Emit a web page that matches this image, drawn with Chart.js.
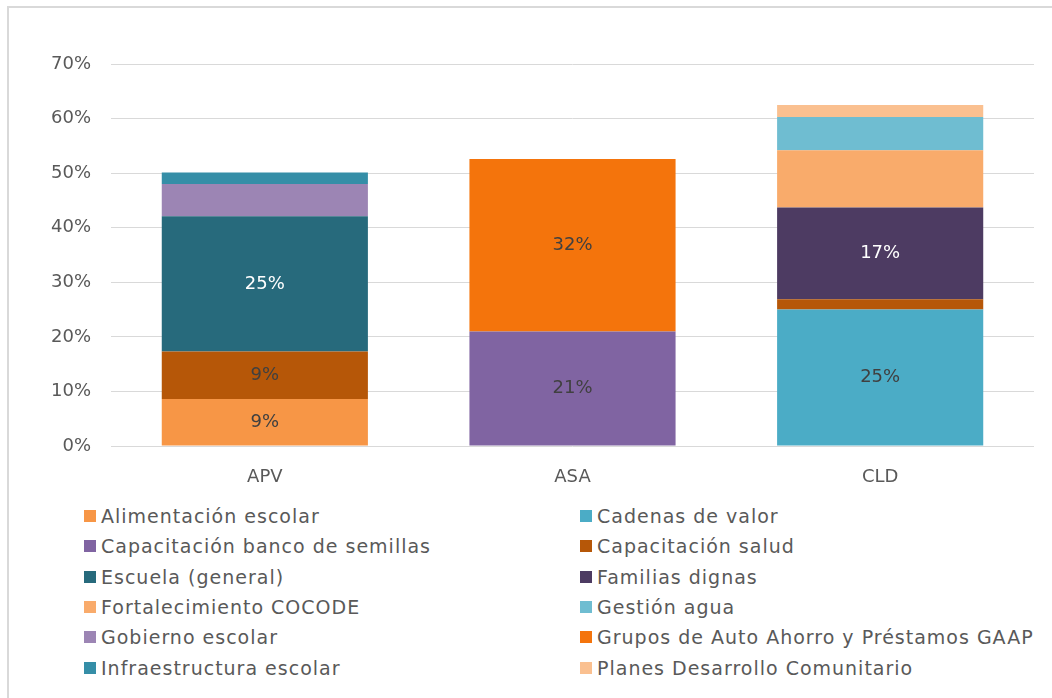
<!DOCTYPE html>
<html>
<head>
<meta charset="utf-8">
<script src="https://cdn.jsdelivr.net/npm/chart.js@4/dist/chart.umd.min.js"></script>
<style>
  body { margin: 0; width: 1052px; height: 698px; background: #fff; overflow: hidden; position: relative; font-family: "DejaVu Sans", sans-serif; }
  .frame { position: absolute; left: 7px; top: 6px; width: 1080px; height: 720px; border: 2px solid #d9d9d9; box-sizing: border-box; }
  #wrap { position: absolute; left: 0; top: 0; width: 1052px; height: 490px; }
  .legend { position: absolute; top: 501px; left: 84px; display: grid; grid-template-columns: 496px 460px; }
  .item { height: 30.3px; display: flex; align-items: center; font-size: 19px; letter-spacing: 1px; color: #595959; white-space: nowrap; }
  .item span.box { width: 12px; height: 12px; margin-right: 5px; flex: none; }
</style>
</head>
<body>
<div class="frame"></div>
<div id="wrap"><canvas id="chart" width="1052" height="490"></canvas></div>
<div class="legend" id="legend"></div>
<script>
const categories = ["APV", "ASA", "CLD"];

const seriesNames = [
  "Alimentación escolar",
  "Cadenas de valor",
  "Capacitación banco de semillas",
  "Capacitación salud",
  "Escuela (general)",
  "Familias dignas",
  "Fortalecimiento COCODE",
  "Gestión agua",
  "Gobierno escolar",
  "Grupos de Auto Ahorro y Préstamos GAAP",
  "Infraestructura escolar",
  "Planes Desarrollo Comunitario",
];

// values in % for APV, ASA, CLD
const alimentacion = [8.6, null, null];
const cadenas = [null, null, 25.0];
const capBanco = [null, 21.0, null];
const capSalud = [8.7, null, 1.9];
const escuela = [24.8, null, null];
const familias = [null, null, 16.8];
const fortalecimiento = [null, null, 10.5];
const gestionAgua = [null, null, 6.1];
const gobierno = [5.9, null, null];
const grupos = [null, 31.6, null];
const infraestructura = [2.1, null, null];
const planes = [null, null, 2.2];

const seriesValues = [
  alimentacion, cadenas, capBanco, capSalud, escuela, familias,
  fortalecimiento, gestionAgua, gobierno, grupos, infraestructura, planes,
];

const colors = [
  "#f79646", "#4bacc6", "#8064a2", "#b65708", "#276a7c", "#4d3b62",
  "#f9ab6b", "#6fbdd1", "#9c85b4", "#f4740c", "#358ea7", "#fac090",
];

// which series carry a value label, and in which colour
const labelled = [0, 2, 3, 4, 5, 9, 1];
const whiteLabels = [4, 5];

const yTicks = [0, 10, 20, 30, 40, 50, 60, 70];

const noSpacing = {
  id: "noSpacing",
  beforeInit(chart) {
    chart.ctx.letterSpacing = "0px";
  },
};

const valueLabels = {
  id: "valueLabels",
  afterDatasetsDraw(chart) {
    const c = chart.ctx;
    c.save();
    c.font = "18px 'DejaVu Sans'";
    c.textAlign = "center";
    c.textBaseline = "middle";
    chart.data.datasets.forEach((ds, i) => {
      if (!labelled.includes(i)) return;
      const meta = chart.getDatasetMeta(i);
      meta.data.forEach((bar, j) => {
        const v = ds.data[j];
        if (v == null || v < 5) return;
        c.fillStyle = whiteLabels.includes(i) ? "#ffffff" : "#404040";
        c.fillText(Math.round(v) + "%", bar.x, (bar.y + bar.base) / 2);
      });
    });
    c.restore();
  },
};

const ctx = document.getElementById("chart").getContext("2d");
const myChart = new Chart(ctx, {
  type: "bar",
  data: {
    labels: categories,
    datasets: seriesNames.map((name, i) => ({
      label: name,
      data: seriesValues[i],
      backgroundColor: colors[i],
      borderWidth: 0,
      barPercentage: 0.67,
      categoryPercentage: 1,
    })),
  },
  options: {
    responsive: false,
    animation: false,
    layout: { padding: { left: 0, right: 18, top: 64, bottom: 0 } },
    plugins: {
      legend: { display: false },
      tooltip: { enabled: false },
    },
    scales: {
      x: {
        stacked: true,
        grid: { display: false },
        border: { display: false },
        ticks: {
          padding: 13,
          color: "#595959",
          font: { family: "DejaVu Sans", size: 18 },
        },
        afterFit(scale) {
          scale.height = 44;
        },
      },
      y: {
        stacked: true,
        min: 0,
        max: 70,
        afterBuildTicks(scale) {
          scale.ticks = yTicks.map((v) => ({ value: v }));
        },
        grid: { color: "#d9d9d9", lineWidth: 1, drawTicks: false },
        border: { display: false },
        ticks: {
          padding: 20,
          color: "#595959",
          font: { family: "DejaVu Sans", size: 18 },
          callback: (v) => v + "%",
        },
        afterFit(scale) {
          scale.width = 111;
        },
      },
    },
  },
  plugins: [noSpacing, valueLabels],
});

const legend = document.getElementById("legend");
seriesNames.forEach((name, i) => {
  const item = document.createElement("div");
  item.className = "item";
  const box = document.createElement("span");
  box.className = "box";
  box.style.background = colors[i];
  item.appendChild(box);
  item.appendChild(document.createTextNode(name));
  legend.appendChild(item);
});
</script>
</body>
</html>
